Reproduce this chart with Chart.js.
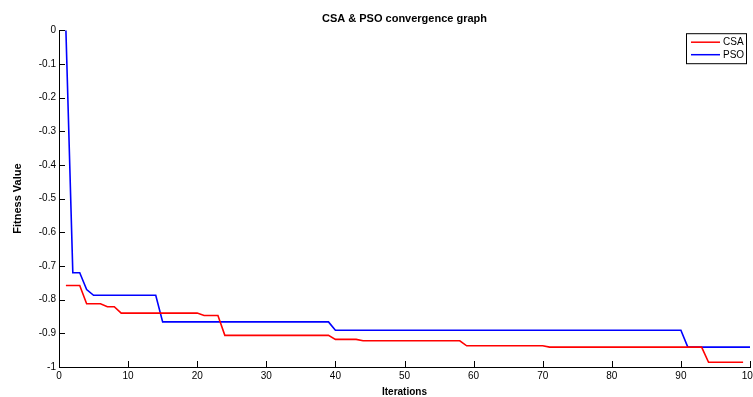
<!DOCTYPE html>
<html lang="en">
<head>
    <meta charset="UTF-8">
    <title>CSA &amp; PSO convergence graph</title>
    <script src="https://cdn.jsdelivr.net/npm/chart.js@4.4.1/dist/chart.umd.min.js"></script>
    <style>
        body {
            margin: 0;
            overflow: hidden;
            background-color: white;
        }
        #wrap {
            width: 753px;
            height: 397px;
        }
    </style>
</head>
<body>
    <div id="wrap">
        <canvas id="convChart"></canvas>
    </div>

    <script>
// Iteration numbers for each run
const csaIter = [1, 2, 3, 4, 5, 6, 7, 8, 9, 10, 11, 12, 13, 14, 15, 16, 17, 18, 19, 20,
    21, 22, 23, 24, 25, 26, 27, 28, 29, 30, 31, 32, 33, 34, 35, 36, 37, 38, 39, 40,
    41, 42, 43, 44, 45, 46, 47, 48, 49, 50, 51, 52, 53, 54, 55, 56, 57, 58, 59, 60,
    61, 62, 63, 64, 65, 66, 67, 68, 69, 70, 71, 72, 73, 74, 75, 76, 77, 78, 79, 80,
    81, 82, 83, 84, 85, 86, 87, 88, 89, 90, 91, 92, 93, 94, 95, 96, 97, 98, 99];
const psoIter = [1, 2, 3, 4, 5, 6, 7, 8, 9, 10, 11, 12, 13, 14, 15, 16, 17, 18, 19, 20,
    21, 22, 23, 24, 25, 26, 27, 28, 29, 30, 31, 32, 33, 34, 35, 36, 37, 38, 39, 40,
    41, 42, 43, 44, 45, 46, 47, 48, 49, 50, 51, 52, 53, 54, 55, 56, 57, 58, 59, 60,
    61, 62, 63, 64, 65, 66, 67, 68, 69, 70, 71, 72, 73, 74, 75, 76, 77, 78, 79, 80,
    81, 82, 83, 84, 85, 86, 87, 88, 89, 90, 91, 92, 93, 94, 95, 96, 97, 98, 99, 100];

// Best fitness value per iteration
const csaFitness = [-0.758, -0.758, -0.758, -0.812, -0.812, -0.812, -0.821, -0.821,
    -0.840, -0.840, -0.840, -0.840, -0.840, -0.840, -0.840, -0.840, -0.840, -0.840, -0.840, -0.840,
    -0.847, -0.847, -0.847,
    -0.906, -0.906, -0.906, -0.906, -0.906, -0.906, -0.906, -0.906, -0.906, -0.906, -0.906, -0.906, -0.906, -0.906, -0.906, -0.906,
    -0.918, -0.918, -0.918, -0.918,
    -0.922, -0.922, -0.922, -0.922, -0.922, -0.922, -0.922, -0.922, -0.922, -0.922, -0.922, -0.922, -0.922, -0.922, -0.922,
    -0.937, -0.937, -0.937, -0.937, -0.937, -0.937, -0.937, -0.937, -0.937, -0.937, -0.937, -0.937,
    -0.941, -0.941, -0.941, -0.941, -0.941, -0.941, -0.941, -0.941, -0.941, -0.941, -0.941, -0.941,
    -0.941, -0.941, -0.941, -0.941, -0.941, -0.941, -0.941, -0.941, -0.941, -0.941, -0.941,
    -0.986, -0.986, -0.986, -0.986, -0.986, -0.986];
const psoFitness = [0, -0.720, -0.720, -0.770,
    -0.787, -0.787, -0.787, -0.787, -0.787, -0.787, -0.787, -0.787, -0.787, -0.787,
    -0.866, -0.866, -0.866, -0.866, -0.866, -0.866, -0.866, -0.866, -0.866, -0.866, -0.866, -0.866, -0.866,
    -0.866, -0.866, -0.866, -0.866, -0.866, -0.866, -0.866, -0.866, -0.866, -0.866, -0.866, -0.866,
    -0.891, -0.891, -0.891, -0.891, -0.891, -0.891, -0.891, -0.891, -0.891, -0.891, -0.891, -0.891, -0.891,
    -0.891, -0.891, -0.891, -0.891, -0.891, -0.891, -0.891, -0.891, -0.891, -0.891, -0.891, -0.891, -0.891,
    -0.891, -0.891, -0.891, -0.891, -0.891, -0.891, -0.891, -0.891, -0.891, -0.891, -0.891, -0.891, -0.891,
    -0.891, -0.891, -0.891, -0.891, -0.891, -0.891, -0.891, -0.891, -0.891, -0.891, -0.891, -0.891,
    -0.941, -0.941, -0.941, -0.941, -0.941, -0.941, -0.941, -0.941, -0.941, -0.941];

const xTicks = [0, 10, 20, 30, 40, 50, 60, 70, 80, 90, 100];
const yTicks = [-1, -0.9, -0.8, -0.7, -0.6, -0.5, -0.4, -0.3, -0.2, -0.1, 0];

const seriesNames = ['CSA', 'PSO'];
const seriesColors = ['#ff0000', '#0000ff'];

const fontFamily = '"Liberation Sans", Arial, Helvetica, sans-serif';

function toPoints(xs, ys) {
    return xs.map((x, i) => ({ x: x, y: ys[i] }));
}

// MATLAB-style ticks pointing into the plot
const innerTicks = {
    id: 'innerTicks',
    afterDraw(chart) {
        const ctx = chart.ctx;
        const area = chart.chartArea;
        const xs = chart.scales.x;
        const ys = chart.scales.y;
        ctx.save();
        ctx.strokeStyle = '#000';
        ctx.lineWidth = 1;
        ctx.beginPath();
        xTicks.forEach(v => {
            const px = Math.round(xs.getPixelForValue(v)) + 0.5;
            ctx.moveTo(px, area.bottom);
            ctx.lineTo(px, area.bottom - 6);
        });
        yTicks.forEach(v => {
            const py = Math.round(ys.getPixelForValue(v)) + 0.5;
            ctx.moveTo(area.left, py);
            ctx.lineTo(area.left + 6, py);
        });
        ctx.stroke();
        ctx.restore();
    }
};

// boxed legend in the top right corner of the axes
const boxLegend = {
    id: 'boxLegend',
    afterDraw(chart) {
        const ctx = chart.ctx;
        const area = chart.chartArea;
        const w = 60, h = 30;
        const left = area.right - 4 - w;
        const top = area.top + 3;
        ctx.save();
        ctx.fillStyle = '#fff';
        ctx.fillRect(left, top, w, h);
        ctx.strokeStyle = '#000';
        ctx.lineWidth = 1;
        ctx.strokeRect(left + 0.5, top + 0.5, w, h);
        ctx.font = '10px ' + fontFamily;
        ctx.textBaseline = 'middle';
        chart.data.datasets.forEach((ds, i) => {
            const y = top + 9 + i * 12.5;
            ctx.strokeStyle = ds.borderColor;
            ctx.lineWidth = 1.5;
            ctx.beginPath();
            ctx.moveTo(left + 5, y);
            ctx.lineTo(left + 34, y);
            ctx.stroke();
            ctx.fillStyle = '#000';
            ctx.fillText(ds.label, left + 37, y + 0.5);
        });
        ctx.restore();
    }
};

new Chart(document.getElementById('convChart'), {
    type: 'line',
    data: {
        datasets: [{
            label: seriesNames[0],
            data: toPoints(csaIter, csaFitness),
            borderColor: seriesColors[0],
            borderWidth: 1.6,
            pointRadius: 0,
            tension: 0,
            fill: false
        }, {
            label: seriesNames[1],
            data: toPoints(psoIter, psoFitness),
            borderColor: seriesColors[1],
            borderWidth: 1.6,
            pointRadius: 0,
            tension: 0,
            fill: false
        }]
    },
    options: {
        responsive: true,
        maintainAspectRatio: false,
        animation: false,
        layout: { padding: { left: 0, right: 3, top: 0, bottom: 0 } },
        plugins: {
            legend: { display: false },
            tooltip: { enabled: false },
            title: {
                display: true,
                text: 'CSA & PSO convergence graph',
                fullSize: false,
                color: '#000',
                font: { family: fontFamily, size: 11, weight: 'bold', lineHeight: 1.2 },
                padding: { top: 12, bottom: 5 }
            }
        },
        scales: {
            x: {
                type: 'linear',
                min: 0,
                max: 100,
                afterBuildTicks: scale => { scale.ticks = xTicks.map(v => ({ value: v })); },
                afterFit: scale => { scale.height = 30; scale.paddingRight = 0; scale.paddingLeft = 0; },
                grid: { display: false, drawTicks: false },
                border: { display: true, color: '#000', width: 1 },
                ticks: {
                    color: '#000',
                    padding: 3,
                    maxRotation: 0,
                    autoSkip: false,
                    font: { family: fontFamily, size: 10 }
                },
                title: {
                    display: true,
                    text: 'Iterations',
                    color: '#000',
                    font: { family: fontFamily, size: 10, weight: 'bold', lineHeight: 1.2 },
                    padding: { top: 0, bottom: -1 }
                }
            },
            y: {
                min: -1,
                max: 0,
                afterBuildTicks: scale => { scale.ticks = yTicks.map(v => ({ value: v })); },
                afterFit: scale => { scale.width = 59; scale.paddingTop = 0; scale.paddingBottom = 0; },
                grid: { display: false, drawTicks: false },
                border: { display: true, color: '#000', width: 1 },
                ticks: {
                    color: '#000',
                    padding: 3,
                    autoSkip: false,
                    font: { family: fontFamily, size: 10 },
                    callback: v => String(Math.round(v * 10) / 10)
                },
                title: {
                    display: true,
                    text: 'Fitness Value',
                    color: '#000',
                    font: { family: fontFamily, size: 11, weight: 'bold', lineHeight: 1.2 },
                    padding: { top: 11, bottom: 0 }
                }
            }
        }
    },
    plugins: [innerTicks, boxLegend]
});
    </script>
</body>
</html>
